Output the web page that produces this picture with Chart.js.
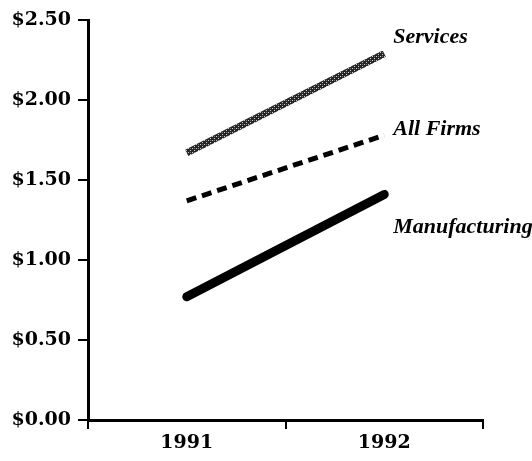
<!DOCTYPE html>
<html>
<head>
<meta charset="utf-8">
<script src="https://cdn.jsdelivr.net/npm/chart.js@4/dist/chart.umd.min.js"></script>
<style>
  html, body { margin: 0; padding: 0; background: #fff; }
  #wrap { width: 532px; height: 461px; }
</style>
</head>
<body>
<div id="wrap"><canvas id="grafico"></canvas></div>
<script>
const anos = ['1991', '1992'];
const servicos = [1.67, 2.29];
const todasEmpresas = [1.37, 1.78];
const industria = [0.77, 1.41];
const nomesSeries = ['Services', 'All Firms', 'Manufacturing'];
const ticksY = ['$0.00', '$0.50', '$1.00', '$1.50', '$2.00', '$2.50'];

const fonteEixo = '"DejaVu Serif", "Liberation Serif", serif';
const fonteRotulo = '"Liberation Serif", "Times New Roman", serif';

// textura cinza da linha de serviços
const texturaCanvas = document.createElement('canvas');
texturaCanvas.width = 4;
texturaCanvas.height = 4;
const tctx = texturaCanvas.getContext('2d');
tctx.fillStyle = '#262626';
tctx.fillRect(0, 0, 4, 4);
tctx.fillStyle = '#cfcfcf';
tctx.fillRect(0, 0, 1, 1);
tctx.fillRect(2, 2, 1, 1);
tctx.fillStyle = '#707070';
tctx.fillRect(2, 0, 1, 1);
const textura = tctx.createPattern(texturaCanvas, 'repeat');

// deslocamento vertical dos rótulos em relação ao ponto de 1992
const deslocRotulos = [-16, -6, 33];

const rotulosLinhas = {
    id: 'rotulosLinhas',
    afterDatasetsDraw(chart) {
        const ctx = chart.ctx;
        ctx.save();
        ctx.font = 'italic bold 22px ' + fonteRotulo;
        ctx.fillStyle = '#000';
        ctx.textBaseline = 'middle';
        ctx.textAlign = 'left';
        chart.data.datasets.forEach((ds, i) => {
            const meta = chart.getDatasetMeta(i);
            const pt = meta.data[meta.data.length - 1];
            ctx.fillText(nomesSeries[i], pt.x + 9, pt.y + deslocRotulos[i]);
        });
        ctx.restore();
    }
};

new Chart(document.getElementById('grafico'), {
    type: 'line',
    data: {
        labels: anos,
        datasets: [{
            label: nomesSeries[0],
            data: servicos,
            borderColor: textura,
            borderWidth: 7,
            borderCapStyle: 'butt',
            pointRadius: 0
        }, {
            label: nomesSeries[1],
            data: todasEmpresas,
            borderColor: '#000',
            borderWidth: 5,
            borderDash: [10, 6],
            pointRadius: 0
        }, {
            label: nomesSeries[2],
            data: industria,
            borderColor: '#000',
            borderWidth: 9,
            borderCapStyle: 'round',
            pointRadius: 0
        }]
    },
    options: {
        responsive: true,
        maintainAspectRatio: false,
        animation: false,
        events: [],
        layout: { padding: { top: 20, right: 49, left: 0, bottom: 0 } },
        plugins: {
            legend: { display: false },
            tooltip: { enabled: false }
        },
        scales: {
            x: {
                offset: true,
                border: { display: true, color: '#000', width: 3 },
                grid: {
                    offset: true,
                    drawOnChartArea: false,
                    drawTicks: true,
                    tickLength: 9,
                    color: '#000',
                    lineWidth: 2
                },
                ticks: {
                    color: '#000',
                    padding: 3,
                    font: { family: fonteEixo, size: 19, weight: 'bold' }
                },
                afterFit(scale) { scale.height = 41; }
            },
            y: {
                min: 0,
                max: 2.5,
                border: { display: true, color: '#000', width: 3 },
                grid: {
                    drawOnChartArea: false,
                    drawTicks: true,
                    tickLength: 10,
                    color: '#000',
                    lineWidth: 2
                },
                ticks: {
                    stepSize: 0.5,
                    color: '#000',
                    padding: 7,
                    font: { family: fonteEixo, size: 19, weight: 'bold' },
                    callback: (v, i) => ticksY[i]
                },
                afterFit(scale) { scale.width = 88; }
            }
        }
    },
    plugins: [rotulosLinhas]
});
</script>
</body>
</html>
